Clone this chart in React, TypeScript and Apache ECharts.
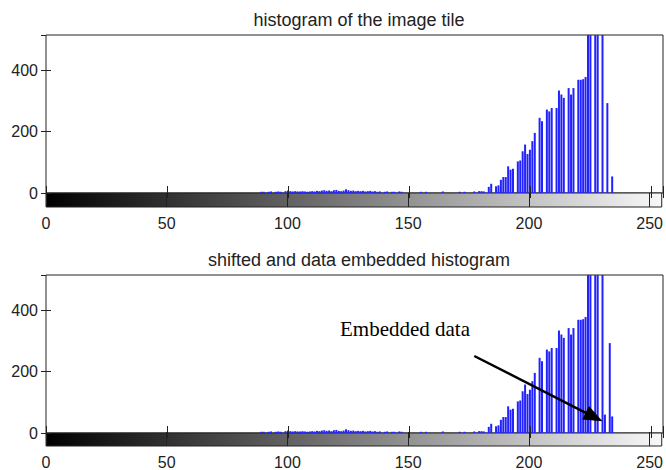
import React, { useEffect, useRef } from "react";
import * as echarts from "echarts";

// Gray levels with non-zero counts (top: original tile histogram)
const topLevels = [
  89, 90, 92, 93, 95, 96, 97, 99, 100, 101, 102, 103, 104, 105, 106, 107, 108, 109, 110, 111,
  112, 113, 114, 115, 116, 117, 118, 119, 120, 121, 122, 123, 124, 125, 126, 127, 128, 129, 130,
  131, 132, 133, 134, 135, 136, 137, 138, 140, 141, 143, 144, 146, 147, 155, 157, 164, 171, 173,
  177, 179, 180, 181, 183, 184, 186, 187, 188, 189, 190, 191, 192, 193, 195, 196, 197, 198, 199,
  200, 201, 202, 204, 205, 207, 208, 209, 211, 212, 213, 214, 216, 217, 218, 220, 221, 222, 223,
  224, 225, 227, 228, 230, 232, 234,
];
const topCounts = [
  4, 4, 4, 5, 4, 5, 4, 6, 8, 6, 5, 6, 5, 5, 6, 5, 4, 5, 6, 5,
  7, 6, 8, 9, 7, 8, 6, 9, 10, 7, 6, 8, 12, 9, 7, 8, 6, 7, 6,
  7, 5, 6, 7, 5, 6, 4, 5, 4, 5, 4, 4, 5, 4, 4, 4, 5, 4, 4,
  5, 6, 6, 5, 20, 30, 22, 25, 43, 52, 52, 87, 76, 79, 103, 106, 136, 158, 127,
  141, 169, 196, 245, 234, 272, 266, 277, 277, 334, 321, 310, 342, 321, 342, 369, 369, 371, 378,
  640, 700, 820, 760, 590, 293, 54,
];

// Bottom: shifted histogram with embedded data
const bottomLevels = [
  89, 90, 92, 93, 95, 96, 97, 99, 100, 101, 102, 103, 104, 105, 106, 107, 108, 109, 110, 111,
  112, 113, 114, 115, 116, 117, 118, 119, 120, 121, 122, 123, 124, 125, 126, 127, 128, 129, 130,
  131, 132, 133, 134, 135, 136, 137, 138, 140, 141, 143, 144, 146, 147, 155, 157, 164, 171, 173,
  177, 179, 180, 181, 183, 184, 186, 187, 188, 189, 190, 191, 192, 193, 195, 196, 197, 198, 199,
  200, 201, 202, 204, 205, 207, 208, 209, 211, 212, 213, 214, 216, 217, 218, 220, 221, 222, 223,
  224, 225, 227, 228, 230, 231, 233, 234,
];
const bottomCounts = [
  4, 4, 4, 5, 4, 5, 4, 6, 8, 6, 5, 6, 5, 5, 6, 5, 4, 5, 6, 5,
  7, 6, 8, 9, 7, 8, 6, 9, 10, 7, 6, 8, 12, 9, 7, 8, 6, 7, 6,
  7, 5, 6, 7, 5, 6, 4, 5, 4, 5, 4, 4, 5, 4, 4, 4, 5, 4, 4,
  5, 6, 6, 5, 20, 30, 22, 25, 43, 52, 52, 87, 76, 79, 103, 106, 136, 158, 127,
  141, 169, 196, 245, 234, 272, 266, 277, 277, 334, 321, 310, 342, 321, 342, 369, 369, 371, 378,
  640, 700, 820, 760, 590, 60, 293, 54,
];

const titles = ["histogram of the image tile", "shifted and data embedded histogram"];
const annotationText = "Embedded data";
// arrow in data coordinates of the lower plot: [gray level, count]
const arrowStart = [177, 251];
const arrowEnd = [226.5, 52];

const GRAY_MAX = 255;
const COUNT_MAX = 515;

export default function App() {
  const ref = useRef<HTMLDivElement>(null);
  useEffect(() => {
    if (!ref.current) return;
    const chart = echarts.init(ref.current, undefined, { renderer: "svg" });
    const font = "'Liberation Sans', Arial, sans-serif";
    const tickColor = "#222";
    const cbGradient = () =>
      new echarts.graphic.LinearGradient(0, 0, 1, 0, [
        { offset: 0, color: "#000000" },
        { offset: 1, color: "#f8f8f8" },
      ]);
    const grids = [
      { left: 46, right: 3, top: 35, height: 158, show: true, borderColor: "#222", borderWidth: 1, backgroundColor: "#fff" },
      { left: 46, right: 3, top: 193, height: 14, show: true, borderColor: "#222", borderWidth: 1, backgroundColor: cbGradient() },
      { left: 46, right: 3, top: 275, height: 158, show: true, borderColor: "#222", borderWidth: 1, backgroundColor: "#fff" },
      { left: 46, right: 3, top: 433, height: 14, show: true, borderColor: "#222", borderWidth: 1, backgroundColor: cbGradient() },
    ];
    const xBase = {
      type: "value",
      min: 0,
      max: GRAY_MAX,
      interval: 50,
      axisLine: { show: false },
      splitLine: { show: false },
    };
    const mkX = (gridIndex: number, position: string, tickLen: number, labels: boolean) => ({
      ...xBase,
      gridIndex,
      position,
      z: 5,
      axisTick: { show: true, inside: true, length: tickLen, lineStyle: { color: tickColor, width: 1 } },
      axisLabel: labels
        ? { show: true, fontSize: 16, color: "#222", margin: 8, fontFamily: font, showMaxLabel: false }
        : { show: false },
    });
    const mkY = (gridIndex: number, position: string, labels: boolean) => ({
      type: "value",
      gridIndex,
      position,
      min: 0,
      max: COUNT_MAX,
      interval: 200,
      axisLine: { show: false },
      splitLine: { show: false },
      axisTick: { show: true, inside: true, length: 5, lineStyle: { color: tickColor } },
      axisLabel: labels
        ? { show: true, fontSize: 16, color: "#222", margin: 8, fontFamily: font, showMaxLabel: false }
        : { show: false },
    });
    const mkCbY = (gridIndex: number) => ({
      type: "value",
      gridIndex,
      min: 0,
      max: 1,
      axisLine: { show: false },
      splitLine: { show: false },
      axisTick: { show: false },
      axisLabel: { show: false },
    });
    const option = {
      animation: false,
      backgroundColor: "#fff",
      textStyle: { fontFamily: font },
      title: titles.map((t, i) => ({
        text: t,
        left: 354,
        textAlign: "center",
        top: i === 0 ? 6 : 246,
        textStyle: { fontSize: 18, fontWeight: "normal", color: "#222", fontFamily: font },
      })),
      grid: grids,
      xAxis: [
        mkX(0, "bottom", 7, false),
        mkX(0, "top", 5, false),
        mkX(1, "bottom", 14, true),
        mkX(2, "bottom", 7, false),
        mkX(2, "top", 5, false),
        mkX(3, "bottom", 14, true),
      ],
      yAxis: [
        mkY(0, "left", true),
        mkY(0, "right", false),
        mkCbY(1),
        mkY(2, "left", true),
        mkY(2, "right", false),
        mkCbY(3),
      ],
      series: [
        {
          type: "bar",
          xAxisIndex: 0,
          yAxisIndex: 0,
          barWidth: 2,
          itemStyle: { color: "#2222ff" },
          data: topLevels.map((l, i) => [l, topCounts[i]]),
        },
        {
          type: "bar",
          xAxisIndex: 3,
          yAxisIndex: 3,
          barWidth: 2,
          itemStyle: { color: "#2222ff" },
          data: bottomLevels.map((l, i) => [l, bottomCounts[i]]),
          markLine: {
            silent: true,
            animation: false,
            symbol: ["none", "triangle"],
            symbolSize: [15, 19],
            label: { show: false },
            lineStyle: { color: "#000", width: 2.5, type: "solid" },
            data: [[{ coord: arrowStart }, { coord: arrowEnd }]],
          },
        },
      ],
      graphic: [
        {
          type: "text",
          x: 340,
          y: 329,
          z: 10,
          style: {
            text: annotationText,
            fontSize: 21,
            fontFamily: "'Liberation Serif', 'Times New Roman', serif",
            fill: "#000",
            verticalAlign: "middle",
          },
        },
      ],
    };
    chart.setOption(option as any);
    return () => chart.dispose();
  }, []);
  return (
    <div
      ref={ref}
      style={{ position: "fixed", left: 0, top: 0, width: 666, height: 470, background: "#fff" }}
    />
  );
}
